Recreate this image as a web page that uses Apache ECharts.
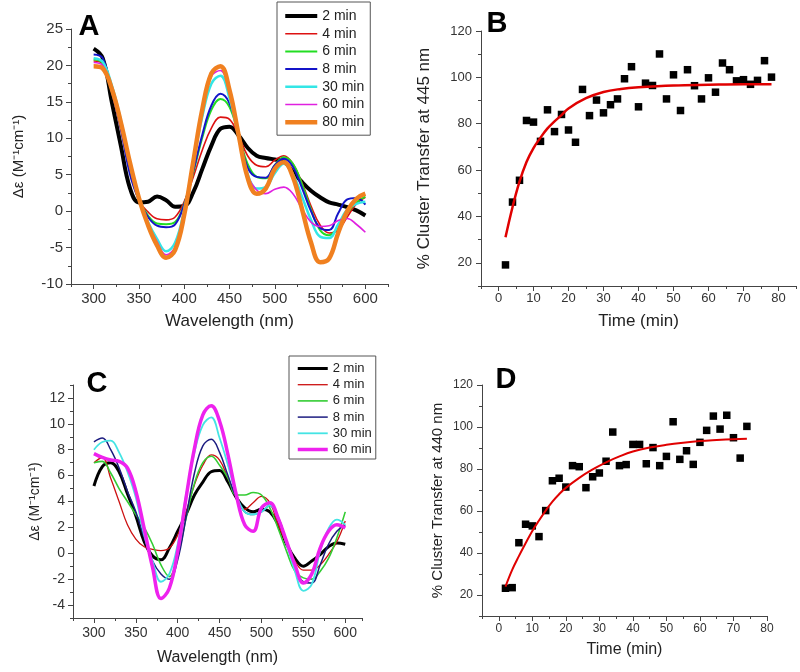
<!DOCTYPE html>
<html><head><meta charset="utf-8">
<script src="https://cdn.jsdelivr.net/npm/echarts@6/dist/echarts.min.js"></script>
<style>html,body{margin:0;padding:0;background:#fff}#c{width:800px;height:672px}</style>
</head><body><div id="c"></div>
<script>
// ---------- data ----------
const wavelengths = [300,310,320,330,340,350,360,370,380,390,400,410,420,430,440,450,460,470,480,490,500,510,520,530,540,550,560,570,580,590,600];

const namesA = ['2 min','4 min','6 min','8 min','30 min','60 min','80 min'];
const specA_2  = [22.3,21.0,15.0,9.0,3.2,1.2,1.3,2.0,1.5,0.6,0.7,2.6,5.8,9.0,11.3,11.6,10.4,8.7,7.6,7.3,7.1,6.8,5.4,4.0,2.8,1.9,1.2,0.9,0.55,0.1,-0.6];
const specA_4  = [20.6,20.2,16.3,11.2,5.5,1.5,-0.1,-1.05,-1.2,-0.8,1.3,4.7,8.4,11.4,12.9,12.6,10.4,7.6,6.3,6.1,7.0,7.6,6.5,3.9,0.7,-1.9,-3.0,-2.6,-0.8,1.0,1.9];
const specA_6  = [20.8,20.3,16.5,11.8,5.9,1.6,-0.6,-1.7,-1.8,-1.5,1.0,5.3,10.1,13.9,15.4,14.3,10.5,6.5,4.7,4.5,6.3,7.4,6.5,3.7,0.2,-2.6,-3.3,-2.2,-0.3,1.2,2.0];
const specA_8  = [21.5,21.0,16.5,11.3,5.1,1.5,-0.8,-2.0,-2.2,-1.8,0.9,5.5,10.5,14.5,16.1,14.8,10.6,6.0,4.7,4.6,6.3,7.2,6.1,3.2,0.0,-2.3,-2.6,-0.3,1.6,1.8,0.9];
const specA_30 = [21.0,20.5,17.3,12.5,6.6,1.6,-1.5,-3.8,-5.5,-4.3,0.2,6.6,13.0,17.5,18.6,15.5,10.2,5.1,3.1,3.3,5.2,6.5,5.1,2.0,-1.2,-3.5,-3.7,-1.8,0.2,1.0,1.3];
const specA_60 = [20.4,20.0,17.2,12.5,6.8,1.8,-1.7,-4.2,-6.0,-4.9,0.0,7.0,13.9,18.5,19.3,16.3,10.6,5.0,2.9,2.4,3.0,3.3,2.4,0.3,-1.5,-2.1,-2.0,-1.3,-1.0,-1.8,-2.9];
const specA_80 = [19.9,19.6,16.8,12.2,6.7,1.8,-1.9,-4.7,-6.4,-5.3,-0.5,6.8,14.0,18.9,19.9,16.6,10.5,4.6,2.4,3.1,5.8,6.7,4.7,0.3,-4.3,-7.0,-6.5,-3.0,0.0,1.7,2.4];

const namesC = ['2 min','4 min','6 min','8 min','30 min','60 min'];
const specC_2  = [5.2,6.7,7.0,6.3,4.6,2.9,0.9,-0.2,-0.5,0.4,1.7,3.0,4.5,5.5,6.3,6.4,5.5,4.3,3.5,3.2,3.4,3.2,2.2,0.7,-0.4,-1.0,-0.6,-0.1,0.5,0.8,0.7];
const specC_4  = [7.0,7.4,5.8,4.0,2.2,1.1,0.5,0.3,0.2,0.4,1.4,3.2,5.3,6.8,7.6,7.2,5.8,4.3,3.4,3.9,4.4,3.9,2.2,0.7,-0.6,-1.3,-1.3,-0.9,-0.1,0.9,2.5];
const specC_6  = [7.0,7.1,6.2,5.0,4.0,3.0,2.0,0.7,-0.9,-1.8,-0.2,2.7,5.4,7.0,7.5,6.8,5.8,4.5,4.5,4.7,4.5,3.5,1.9,0.15,-1.4,-1.9,-2.0,-1.4,-0.4,1.2,3.2];
const specC_8  = [8.6,8.9,8.0,6.6,4.8,3.2,1.2,-0.6,-1.6,-2.0,-0.5,2.8,6.2,8.3,8.8,7.8,6.0,4.3,3.2,3.0,3.2,3.7,2.8,0.9,-1.0,-2.2,-2.3,-0.9,0.7,1.7,2.2];
const specC_30 = [8.0,8.6,8.7,7.8,6.3,4.3,1.4,-0.6,-2.2,-1.6,0.7,4.5,7.8,9.9,10.5,8.9,6.8,4.5,3.2,3.0,3.2,3.7,2.7,0.7,-1.4,-2.9,-2.4,0.15,1.9,2.6,2.2];
const specC_60 = [7.7,7.4,7.2,7.1,6.6,4.8,1.9,-1.1,-3.5,-2.7,0.15,4.3,8.1,10.7,11.4,10.2,7.6,4.5,2.2,1.7,3.5,3.9,2.7,0.9,-0.9,-2.3,-1.6,0.4,1.7,2.2,1.95];

const timesB = [2,4,6,8,10,12,14,16,18,20,22,24,26,28,30,32,34,36,38,40,42,44,46,48,50,52,54,56,58,60,62,64,66,68,70,72,74,76,78];
const transferB = [19.1,46.2,55.6,81.4,80.7,72.4,86.0,76.6,84.0,77.3,72.0,94.8,83.5,90.2,84.7,88.2,90.7,99.4,104.6,87.3,97.5,96.5,110.1,90.7,101.1,85.7,103.3,96.4,90.7,99.8,93.6,106.2,103.3,98.5,99.0,97.0,98.7,107.2,100.1];
const fitTimesB = [2,4,6,8,10,12,14,16,18,20,25,30,35,40,50,60,70,78];
const fitB = [31,44,55,63.5,69.5,74,78,81,83.7,86.6,91,93.7,95,95.7,96.5,96.8,97,97];

const timesD = [2,4,6,8,10,12,14,16,18,20,22,24,26,28,30,32,34,36,38,40,42,44,46,48,50,52,54,56,58,60,62,64,66,68,70,72,74];
const transferD = [23.2,23.5,44.9,53.7,52.9,47.8,60.2,74.4,75.6,71.4,81.6,81.1,71.1,76.3,78.1,83.7,97.6,81.6,82.1,91.7,91.7,82.5,90.2,81.6,86.0,102.5,84.6,88.7,82.2,92.7,98.4,105.2,99.0,105.6,94.9,85.2,100.3];
const fitTimesD = [2,4,6,8,10,12,14,16,18,20,24,28,32,36,40,45,50,55,60,65,70,74];
const fitD = [24,32,38.5,44.6,50.5,55.5,60.2,64.5,68,71,75.8,79.8,83.2,86,88.3,90.2,91.5,92.5,93.3,93.8,94.2,94.4];

const ticksA_x = [300,350,400,450,500,550,600];
const ticksA_y = [-10,-5,0,5,10,15,20,25];
const ticksB_x = [0,10,20,30,40,50,60,70,80];
const ticksB_y = [20,40,60,80,100,120];
const ticksC_x = [300,350,400,450,500,550,600];
const ticksC_y = [-4,-2,0,2,4,6,8,10,12];
const ticksD_x = [0,10,20,30,40,50,60,70,80];
const ticksD_y = [20,40,60,80,100,120];

const colorsA = ['#000000','#dd1111','#22dd22','#1414c8','#33e6e6','#e020e0','#f08020'];
const widthsA = [4,1.6,2,2,2.5,1.6,4.5];
const colorsC = ['#000000','#cc1111','#33cc33','#1c1c80','#44e4e4','#ee22ee'];
const widthsC = [3,1.3,1.6,1.5,1.8,3.5];

// ---------- helpers ----------
const FONT = "'Liberation Sans', Arial, sans-serif";
const AX = {color:'#444', width:1};

function axisPair(dim, g, c) {
  const pos = dim === 'x' ? 'bottom' : 'left';
  const major = {
    type:'value', gridIndex:g, position:pos, min:c.min, max:c.max,
    axisLine:{show:true, onZero:false, lineStyle:AX},
    axisTick:{show:true, inside:false, length:5, customValues:c.ticks, lineStyle:AX},
    axisLabel:{show:true, customValues:c.ticks, fontSize:c.fs, color:'#333', fontFamily:FONT, margin:c.margin},
    splitLine:{show:false},
    name:c.name, nameLocation:'middle', nameGap:c.gap,
    nameTextStyle:{fontSize:c.nfs, color:'#222', fontFamily:FONT}
  };
  const minor = {
    type:'value', gridIndex:g, position:pos, min:c.min, max:c.max, interval:c.minor,
    axisLine:{show:false, onZero:false},
    axisTick:{show:true, inside:false, length:3, lineStyle:AX},
    axisLabel:{show:false}, splitLine:{show:false}
  };
  return [major, minor];
}

const xAxis = [].concat(
  axisPair('x',0,{min:275,max:625,ticks:ticksA_x,minor:25,fs:15,margin:7,name:'Wavelength (nm)',gap:29,nfs:17}),
  axisPair('x',1,{min:-5,max:85,ticks:ticksB_x,minor:5,fs:13,margin:6,name:'Time (min)',gap:27,nfs:17}),
  axisPair('x',2,{min:275,max:620,ticks:ticksC_x,minor:25,fs:14,margin:8,name:'Wavelength (nm)',gap:32,nfs:16}),
  axisPair('x',3,{min:-5,max:80,ticks:ticksD_x,minor:5,fs:12,margin:7,name:'Time (min)',gap:26,nfs:16})
);
const yAxis = [].concat(
  axisPair('y',0,{min:-10,max:25,ticks:ticksA_y,minor:2.5,fs:15,margin:8,name:'\u0394\u03b5 (M\u207b\u00b9cm\u207b\u00b9)',gap:45,nfs:15}),
  axisPair('y',1,{min:10,max:120,ticks:ticksB_y,minor:10,fs:13,margin:9,name:'% Cluster Transfer at 445 nm',gap:48,nfs:17}),
  axisPair('y',2,{min:-5,max:13,ticks:ticksC_y,minor:1,fs:14,margin:8,name:'\u0394\u03b5 (M\u207b\u00b9cm\u207b\u00b9)',gap:31,nfs:14}),
  axisPair('y',3,{min:10,max:120,ticks:ticksD_y,minor:10,fs:12,margin:9,name:'% Cluster Transfer at 440 nm',gap:37,nfs:15})
);

function spectrum(name, arr, axis, color, width) {
  return {type:'line', name:name, xAxisIndex:axis, yAxisIndex:axis,
    data:wavelengths.map((w,i)=>[w,arr[i]]), symbol:'none', showSymbol:false,
    smooth:0.4, lineStyle:{color:color, width:width}, itemStyle:{color:color}, silent:true};
}

const specA = [specA_2,specA_4,specA_6,specA_8,specA_30,specA_60,specA_80];
const specC = [specC_2,specC_4,specC_6,specC_8,specC_30,specC_60];

const series = [];
specA.forEach((arr,i)=>series.push(spectrum(namesA[i], arr, 0, colorsA[i], widthsA[i])));
specC.forEach((arr,i)=>series.push(spectrum('C ' + namesC[i], arr, 4, colorsC[i], widthsC[i])));

series.push({type:'scatter', name:'dataB', xAxisIndex:2, yAxisIndex:2, symbol:'rect', symbolSize:7.5,
  itemStyle:{color:'#000', opacity:1}, data:timesB.map((t,i)=>[t,transferB[i]]), silent:true});
series.push({type:'line', name:'fitB', xAxisIndex:2, yAxisIndex:2, symbol:'none', smooth:0.4,
  lineStyle:{color:'#e00000', width:2.5}, data:fitTimesB.map((t,i)=>[t,fitB[i]]), silent:true, z:3});
series.push({type:'scatter', name:'dataD', xAxisIndex:6, yAxisIndex:6, symbol:'rect', symbolSize:7.5,
  itemStyle:{color:'#000', opacity:1}, data:timesD.map((t,i)=>[t,transferD[i]]), silent:true});
series.push({type:'line', name:'fitD', xAxisIndex:6, yAxisIndex:6, symbol:'none', smooth:0.4,
  lineStyle:{color:'#e00000', width:2}, data:fitTimesD.map((t,i)=>[t,fitD[i]]), silent:true, z:3});

function panelLabel(t, x, y) {
  return {type:'text', x:x, y:y, z:100,
    style:{text:t, font:"bold 29px 'Liberation Sans', Arial, sans-serif", fill:'#000',
      align:'center', verticalAlign:'middle', textAlign:'center', textVerticalAlign:'middle'}};
}

function legendData(names, widths, prefix) {
  return names.map((n,i)=>({name:prefix + n, lineStyle:{width:widths[i]}, itemStyle:{opacity:0}}));
}

const option = {
  animation:false,
  backgroundColor:'#fff',
  grid:[
    {left:71, top:29, width:317, height:255},
    {left:481, top:31, width:315, height:255},
    {left:73, top:385, width:289, height:233},
    {left:482, top:385, width:285, height:231}
  ],
  xAxis:xAxis, yAxis:yAxis,
  legend:[
    {data:legendData(namesA, widthsA, ''), orient:'vertical', left:277, top:2, itemWidth:32, itemHeight:14, itemGap:3.7,
     padding:[7,6,6,6], borderColor:'#555', borderWidth:1, backgroundColor:'#fff', selectedMode:false,
     itemStyle:{opacity:0, borderWidth:0},
     textStyle:{fontSize:14, color:'#222', fontFamily:FONT}},
    {data:legendData(namesC, widthsC, 'C '), orient:'vertical', left:289, top:356, itemWidth:30, itemHeight:13, itemGap:3.2,
     padding:[6,4,3,7], borderColor:'#555', borderWidth:1, backgroundColor:'#fff', selectedMode:false,
     itemStyle:{opacity:0, borderWidth:0},
     formatter:n=>n.slice(2), textStyle:{fontSize:13, color:'#222', fontFamily:FONT}}
  ],
  graphic:[panelLabel('A',89,27), panelLabel('B',497,24), panelLabel('C',97,384), panelLabel('D',506,380)],
  series:series
};

const chart = echarts.init(document.getElementById('c'), null, {renderer:'canvas'});
chart.setOption(option);
</script>
</body></html>
